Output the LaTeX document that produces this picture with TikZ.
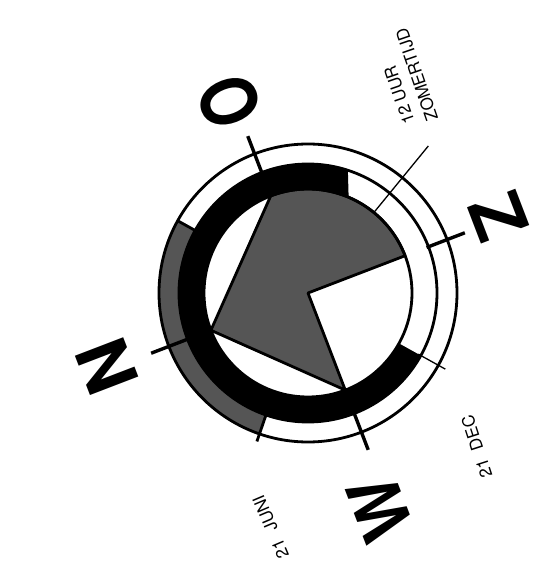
\documentclass[tikz,border=0pt]{standalone}
\usepackage{fontspec}
\newfontfamily\heros{TeX Gyre Heros}
\definecolor{sgrey}{HTML}{555555}
\tikzset{
  ring/.style={line width=2.8pt},
  cardtick/.style={line width=3.4pt},
  thinline/.style={line width=1.3pt},
  bigletter/.style={font=\heros\bfseries\fontsize{71}{71}\selectfont, inner sep=0pt, rotate=111},
  smalltext/.style={font=\heros\fontsize{17}{17}\selectfont, inner sep=0pt}
}
\begin{document}
\begin{tikzpicture}[x=1pt,y=1pt]
\useasboundingbox (-308,-280) rectangle (232,293);
\coordinate (c) at (0,0);
% grey sector inside the inner circle
\filldraw[fill=sgrey, ring, line join=round] (c) -- (21:104) arc[start angle=21, end angle=111, radius=104] -- (201:104) -- (291:104) -- cycle;
% black band
\fill (72:129) arc[start angle=72, end angle=331, radius=129] -- (331:104) arc[start angle=331, end angle=67, radius=104] -- cycle;
% grey outer band
\fill[sgrey] (151:149) arc[start angle=151, end angle=251, radius=149] -- (251:129) arc[start angle=251, end angle=151, radius=129] -- cycle;
% circles
\draw[ring] (c) circle[radius=149];
\draw[ring] (c) circle[radius=129];
\draw[ring] (c) circle[radius=104];
% band ends
\draw[ring] (151:129) -- (151:149);
\draw[ring] (251:129) -- (251:157);
\draw[thinline] (331:126) -- (331:157);
\draw[thinline] (50.7:104) -- (50.7:190);
% cardinal ticks
\foreach \a in {21,111,201,291} \draw[cardtick] (\a:127) -- (\a:168);
% cardinal letters
\node[bigletter, xscale=0.88, yscale=1.09] (o) at (-79,191.3) {O};
\node[bigletter] (z) at (190.3,76.3) {Z};
\node[bigletter, xscale=0.93] (w) at (72,-216) {W};
\node[bigletter] (n) at (-201.3,-73.7) {N};
% small labels
\node[smalltext, rotate=109] (uur) at (91.2,198) {12 UUR};
\node[smalltext, rotate=109] (zt) at (108.7,218) {ZOMERTIJD};
\node[smalltext, rotate=108] (dec) at (168.7,-153.7) {21\hspace{10pt}DEC};
\node[smalltext, rotate=113] (juni) at (-37.2,-233.7) {21\hspace{10pt}JUNI};
\end{tikzpicture}
\end{document}
